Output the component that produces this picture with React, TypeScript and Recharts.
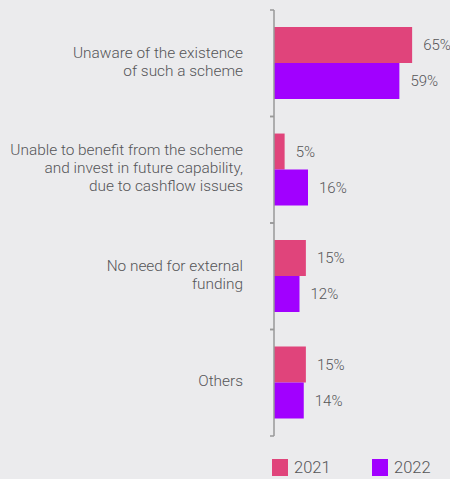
import { BarChart, Bar, XAxis, YAxis, LabelList, Legend } from "recharts";

// categories, top to bottom (line breaks as in the source)
const categories = [
  "Unaware of the existence\nof such a scheme",
  "Unable to benefit from the scheme\nand invest in future capability,\ndue to cashflow issues",
  "No need for external\nfunding",
  "Others",
];
const values2021 = [65, 5, 15, 15];
const values2022 = [59, 16, 12, 14];
const seriesNames = ["2021", "2022"];

const COLORS = ["#e0447b", "#a100ff"];
const TEXT = "#555558";
const FONT = "Roboto, 'Noto Sans', sans-serif";

const data = categories.map((name, i) => ({
  name,
  y2021: values2021[i],
  y2022: values2022[i],
}));

function CategoryTick(props: any) {
  const { x, y, payload } = props;
  const lines: string[] = String(payload.value).split("\n");
  const half = payload.offset || 53;
  const lh = 18;
  const startY = y - ((lines.length - 1) * lh) / 2 - 2;
  return (
    <g>
      <line x1={x - 4} x2={x} y1={y - half} y2={y - half} stroke="#999" strokeWidth={1.5} />
      <line x1={x - 4} x2={x} y1={y + half} y2={y + half} stroke="#999" strokeWidth={1.5} />
      <text
        x={x - 31}
        y={startY}
        textAnchor="end"
        fill={TEXT}
        fontSize={15.4}
        fontWeight={300}
        fontFamily={FONT}
      >
        {lines.map((l, i) => (
          <tspan key={i} x={x - 31} dy={i === 0 ? "0.35em" : lh}>
            {l}
          </tspan>
        ))}
      </text>
    </g>
  );
}

function LegendBox() {
  return (
    <div style={{ display: "flex", paddingTop: 23, paddingLeft: 272, fontFamily: FONT }}>
      {seriesNames.map((s, i) => (
        <div
          key={s}
          style={{ display: "flex", alignItems: "center", width: 100, flexShrink: 0 }}
        >
          <span style={{ width: 16, height: 17, background: COLORS[i], display: "inline-block" }} />
          <span style={{ marginLeft: 6, fontSize: 16.5, fontWeight: 300, color: TEXT, lineHeight: "17px" }}>{s}</span>
        </div>
      ))}
    </div>
  );
}

export default function App() {
  return (
    <div
      style={{
        position: "absolute",
        top: 0,
        left: 0,
        width: 450,
        height: 479,
        background: "#ebebed",
        overflow: "hidden",
      }}
    >
      <BarChart
        width={450}
        height={479}
        data={data}
        layout="vertical"
        margin={{ top: 10, right: 6, bottom: 0, left: 0 }}
        barCategoryGap="16%"
        barGap={0}
      >
        <XAxis type="number" domain={[0, 80]} hide />
        <YAxis
          type="category"
          dataKey="name"
          width={274}
          tickSize={0}
          tickMargin={0}
          tickLine={false}
          axisLine={{ stroke: "#999", strokeWidth: 1.5 }}
          tick={<CategoryTick />}
          interval={0}
        />
        <Legend verticalAlign="bottom" height={43} content={<LegendBox />} />
        <Bar dataKey="y2021" name="2021" fill={COLORS[0]} isAnimationActive={false}>
          <LabelList
            dataKey="y2021"
            position="right"
            offset={11}
            formatter={(v: any) => `${v}%`}
            fill={TEXT}
            fontSize={15}
            fontWeight={300}
            fontFamily={FONT}
          />
        </Bar>
        <Bar dataKey="y2022" name="2022" fill={COLORS[1]} isAnimationActive={false}>
          <LabelList
            dataKey="y2022"
            position="right"
            offset={11}
            formatter={(v: any) => `${v}%`}
            fill={TEXT}
            fontSize={15}
            fontWeight={300}
            fontFamily={FONT}
          />
        </Bar>
      </BarChart>
    </div>
  );
}
